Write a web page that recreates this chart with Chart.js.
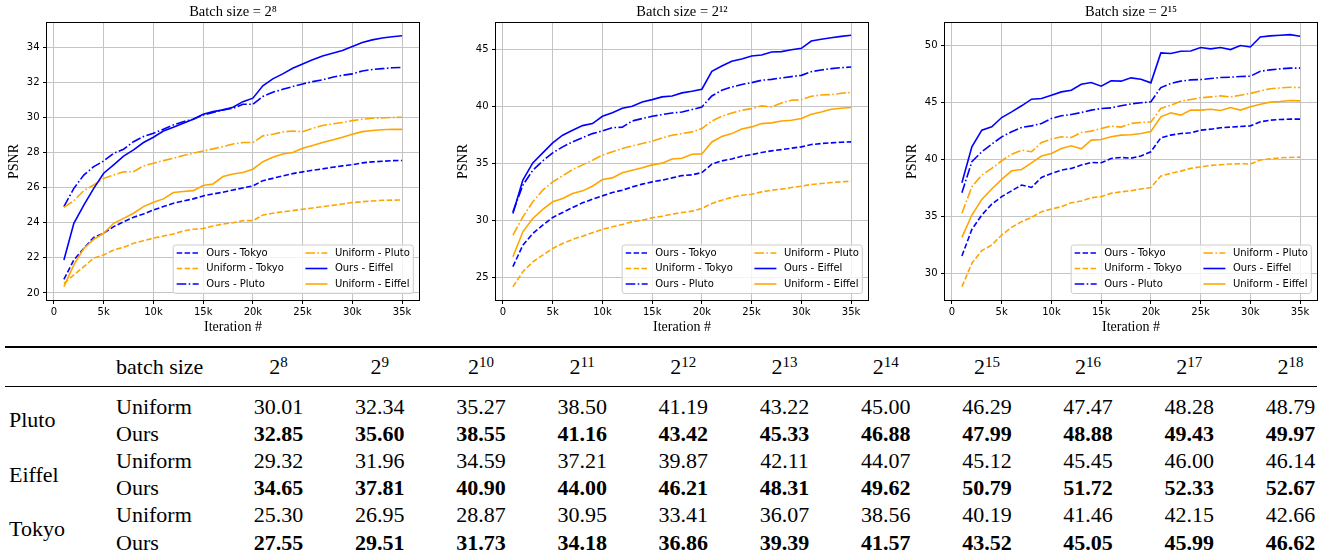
<!DOCTYPE html>
<html>
<head>
<meta charset="utf-8">
<script src="https://cdn.jsdelivr.net/npm/chart.js@4.4.1/dist/chart.umd.min.js"></script>
<style>
  html, body { margin: 0; padding: 0; background: #fff; }
  body { width: 1325px; height: 560px; overflow: hidden; position: relative; }
  canvas { position: absolute; top: 0; }
  .rule { position: absolute; left: 5px; width: 1312px; background: #000; }
  #psnrTable {
    position: absolute; top: 348px; left: 0;
    width: 1341px; table-layout: fixed;
    border-collapse: collapse; border-spacing: 0;
    font-family: "Liberation Serif", "Times New Roman", serif; font-size: 22px; color: #000;
  }
  #psnrTable td { padding: 0; white-space: nowrap; line-height: 27.2px; height: 27.2px; }
  #psnrTable tr.head td { height: 38px; line-height: 38px; }
  #psnrTable tr.gap td { height: 6.5px; line-height: 6.5px; }
  #psnrTable td.scene { padding-left: 9px; vertical-align: middle; }
  #psnrTable td.method { padding-left: 6px; }
  #psnrTable td.num { text-align: center; }
  #psnrTable td.best { font-weight: bold; }
  #psnrTable sup { font-size: 15px; vertical-align: 7px; line-height: 0; }
</style>
</head>
<body>
<canvas id="c8" width="440" height="340" style="left:0px"></canvas>
<canvas id="c12" width="440" height="340" style="left:449px"></canvas>
<canvas id="c15" width="440" height="340" style="left:898px"></canvas>
<div class="rule" style="top:346px;height:2px"></div>
<div class="rule" style="top:386px;height:1px"></div>
<table id="psnrTable"></table>

<script>
// ---- line chart data (PSNR vs iteration) ----
const iterations = [1000, 2000, 3000, 4000, 5000, 6000, 7000, 8000, 9000, 10000,
  11000, 12000, 13000, 14000, 15000, 16000, 17000, 18000, 19000, 20000,
  21000, 22000, 23000, 24000, 25000, 26000, 27000, 28000, 29000, 30000,
  31000, 32000, 33000, 34000, 35000];

const xTicks = [0, 5000, 10000, 15000, 20000, 25000, 30000, 35000];
const xTickLabels = ['0', '5k', '10k', '15k', '20k', '25k', '30k', '35k'];

// batch size 2^8
const b8OursTokyo = [20.78, 21.88, 22.54, 23.17, 23.40, 23.78, 24.06, 24.31, 24.50, 24.73, 24.92, 25.11, 25.24, 25.36, 25.53, 25.64, 25.74, 25.87, 25.98, 26.10, 26.40, 26.53, 26.67, 26.80, 26.90, 26.99, 27.07, 27.16, 27.24, 27.31, 27.41, 27.47, 27.50, 27.54, 27.55];
const b8UniformTokyo = [20.55, 21.03, 21.50, 21.98, 22.17, 22.45, 22.60, 22.83, 22.98, 23.12, 23.25, 23.36, 23.53, 23.63, 23.67, 23.82, 23.93, 24.00, 24.12, 24.12, 24.44, 24.54, 24.63, 24.69, 24.77, 24.84, 24.92, 24.99, 25.07, 25.15, 25.20, 25.24, 25.28, 25.29, 25.30];
const b8OursPluto = [24.92, 25.96, 26.72, 27.20, 27.52, 27.96, 28.19, 28.62, 28.91, 29.10, 29.33, 29.57, 29.76, 29.90, 30.14, 30.28, 30.43, 30.52, 30.75, 30.75, 31.19, 31.44, 31.60, 31.76, 31.91, 32.04, 32.14, 32.29, 32.40, 32.48, 32.65, 32.73, 32.78, 32.83, 32.85];
const b8UniformPluto = [24.88, 25.26, 25.83, 26.15, 26.53, 26.72, 26.90, 26.91, 27.24, 27.39, 27.54, 27.67, 27.83, 27.96, 28.09, 28.21, 28.34, 28.49, 28.57, 28.57, 28.95, 29.04, 29.17, 29.23, 29.19, 29.38, 29.54, 29.63, 29.71, 29.82, 29.90, 29.95, 29.97, 30.00, 30.01];
const b8OursEiffel = [21.88, 23.97, 25.00, 25.96, 26.82, 27.30, 27.80, 28.15, 28.57, 28.87, 29.23, 29.44, 29.67, 29.90, 30.18, 30.33, 30.43, 30.58, 30.90, 31.10, 31.80, 32.20, 32.48, 32.80, 33.05, 33.28, 33.50, 33.66, 33.81, 34.04, 34.27, 34.42, 34.53, 34.60, 34.65];
const b8UniformEiffel = [20.36, 21.60, 22.54, 23.05, 23.40, 23.97, 24.25, 24.54, 24.92, 25.17, 25.36, 25.72, 25.78, 25.83, 26.12, 26.21, 26.63, 26.78, 26.86, 27.05, 27.48, 27.73, 27.92, 28.00, 28.24, 28.40, 28.57, 28.72, 28.87, 29.04, 29.19, 29.26, 29.30, 29.33, 29.32];

// batch size 2^12
const b12OursTokyo = [25.91, 27.80, 28.82, 29.55, 30.23, 30.66, 31.10, 31.51, 31.83, 32.12, 32.42, 32.62, 32.91, 33.15, 33.35, 33.50, 33.70, 33.90, 33.96, 34.17, 34.90, 35.19, 35.36, 35.60, 35.74, 35.92, 36.07, 36.18, 36.30, 36.42, 36.62, 36.71, 36.77, 36.82, 36.86];
const b12UniformTokyo = [24.15, 25.47, 26.34, 26.93, 27.51, 27.95, 28.30, 28.59, 28.88, 29.18, 29.41, 29.61, 29.85, 29.99, 30.20, 30.34, 30.52, 30.66, 30.78, 31.01, 31.45, 31.74, 31.98, 32.18, 32.27, 32.47, 32.62, 32.71, 32.85, 32.97, 33.12, 33.20, 33.29, 33.35, 33.41];
const b12OursPluto = [30.72, 33.06, 34.37, 35.19, 35.89, 36.42, 36.85, 37.23, 37.58, 37.82, 38.11, 38.14, 38.69, 38.90, 39.10, 39.25, 39.39, 39.48, 39.69, 39.92, 40.88, 41.38, 41.67, 41.88, 42.05, 42.26, 42.34, 42.46, 42.58, 42.69, 43.01, 43.16, 43.28, 43.36, 43.42];
const b12UniformPluto = [28.68, 30.28, 31.60, 32.62, 33.35, 33.88, 34.43, 34.84, 35.25, 35.69, 35.98, 36.27, 36.50, 36.71, 36.91, 37.20, 37.44, 37.58, 37.73, 38.02, 38.69, 39.10, 39.39, 39.63, 39.77, 40.01, 39.92, 40.27, 40.50, 40.56, 40.85, 40.97, 41.00, 41.12, 41.19];
const b12OursEiffel = [30.58, 33.50, 35.01, 35.89, 36.77, 37.44, 37.88, 38.28, 38.46, 39.10, 39.42, 39.80, 39.98, 40.36, 40.56, 40.80, 40.88, 41.15, 41.29, 41.47, 43.04, 43.51, 43.92, 44.12, 44.39, 44.47, 44.74, 44.77, 44.94, 45.06, 45.70, 45.85, 45.99, 46.11, 46.21];
const b12UniformEiffel = [26.78, 28.97, 30.14, 30.93, 31.60, 31.89, 32.33, 32.56, 32.97, 33.55, 33.70, 34.14, 34.37, 34.58, 34.84, 34.99, 35.36, 35.42, 35.77, 35.80, 36.85, 37.32, 37.58, 37.99, 38.17, 38.46, 38.52, 38.69, 38.75, 38.90, 39.28, 39.48, 39.72, 39.80, 39.87];

// batch size 2^15
const b15OursTokyo = [31.52, 33.85, 35.11, 36.07, 36.72, 37.24, 37.74, 37.53, 38.41, 38.76, 39.05, 39.20, 39.49, 39.72, 39.69, 40.07, 40.16, 40.10, 40.28, 40.66, 41.88, 42.12, 42.26, 42.32, 42.55, 42.64, 42.76, 42.82, 42.88, 42.93, 43.28, 43.43, 43.49, 43.52, 43.52];
const b15UniformTokyo = [28.83, 30.88, 31.99, 32.48, 33.36, 34.03, 34.53, 34.91, 35.40, 35.64, 35.84, 36.19, 36.34, 36.63, 36.72, 37.01, 37.15, 37.24, 37.39, 37.53, 38.53, 38.76, 38.96, 39.20, 39.34, 39.46, 39.52, 39.58, 39.61, 39.58, 39.93, 40.04, 40.13, 40.16, 40.19];
const b15OursPluto = [37.07, 39.78, 40.66, 41.33, 41.97, 42.41, 42.79, 42.93, 43.14, 43.58, 43.81, 43.93, 44.10, 44.31, 44.45, 44.51, 44.69, 44.86, 44.95, 45.04, 46.29, 46.64, 46.85, 46.96, 46.99, 47.08, 47.17, 47.20, 47.26, 47.28, 47.72, 47.84, 47.93, 47.99, 47.99];
const b15UniformPluto = [35.26, 37.59, 38.61, 39.20, 39.87, 40.45, 40.80, 40.66, 41.47, 41.77, 41.97, 41.91, 42.35, 42.47, 42.70, 42.91, 42.82, 43.14, 43.23, 43.28, 44.45, 44.74, 45.09, 45.24, 45.39, 45.47, 45.56, 45.47, 45.62, 45.77, 46.00, 46.18, 46.26, 46.32, 46.29];
const b15OursEiffel = [37.94, 41.09, 42.55, 42.85, 43.66, 44.16, 44.69, 45.27, 45.33, 45.62, 45.91, 46.06, 46.58, 46.73, 46.41, 46.88, 46.85, 47.14, 47.02, 46.70, 49.33, 49.27, 49.47, 49.50, 49.80, 49.68, 49.80, 49.62, 49.97, 49.85, 50.73, 50.82, 50.88, 50.93, 50.79];
const b15UniformEiffel = [33.15, 35.11, 36.48, 37.39, 38.23, 38.99, 39.11, 39.69, 40.28, 40.51, 40.95, 41.18, 40.92, 41.68, 41.74, 41.97, 42.12, 42.15, 42.26, 42.44, 43.72, 44.07, 43.87, 44.31, 44.31, 44.39, 44.28, 44.54, 44.31, 44.60, 44.83, 45.01, 45.07, 45.15, 45.12];

const b8YTicks = [20, 22, 24, 26, 28, 30, 32, 34];
const b12YTicks = [25, 30, 35, 40, 45];
const b15YTicks = [30, 35, 40, 45, 50];

// ---- table data (final PSNR per batch size) ----
const batchExponents = [8, 9, 10, 11, 12, 13, 14, 15, 16, 17, 18];
const plutoUniform = [30.01, 32.34, 35.27, 38.50, 41.19, 43.22, 45.00, 46.29, 47.47, 48.28, 48.79];
const plutoOurs = [32.85, 35.60, 38.55, 41.16, 43.42, 45.33, 46.88, 47.99, 48.88, 49.43, 49.97];
const eiffelUniform = [29.32, 31.96, 34.59, 37.21, 39.87, 42.11, 44.07, 45.12, 45.45, 46.00, 46.14];
const eiffelOurs = [34.65, 37.81, 40.90, 44.00, 46.21, 48.31, 49.62, 50.79, 51.72, 52.33, 52.67];
const tokyoUniform = [25.30, 26.95, 28.87, 30.95, 33.41, 36.07, 38.56, 40.19, 41.46, 42.15, 42.66];
const tokyoOurs = [27.55, 29.51, 31.73, 34.18, 36.86, 39.39, 41.57, 43.52, 45.05, 45.99, 46.62];

const BLUE = '#0000ff';
const ORANGE = '#ffa500';
const DASHED = [5.5, 2.4];
const DASHDOT = [9.6, 2.4, 1.6, 2.4];
const gridColor = '#c4c4c4';
const tickFont = { family: 'DejaVu Sans', size: 10 };
const serifFont = { family: 'Liberation Serif', size: 14, weight: 'normal' };

// spines on all four sides, drawn over the lines like matplotlib
const frame = {
  id: 'frame',
  afterDatasetsDraw(chart) {
    const { ctx, chartArea: a } = chart;
    ctx.save();
    ctx.strokeStyle = '#000';
    ctx.lineWidth = 1;
    ctx.strokeRect(a.left - 0.5, a.top - 0.5, a.right - a.left + 1, a.bottom - a.top + 1);
    ctx.restore();
  }
};

// two-column legend in the lower right of the axes
const legendBox = {
  id: 'legendBox',
  afterDraw(chart) {
    const { ctx, chartArea: a } = chart;
    const ds = chart.data.datasets;
    ctx.save();
    ctx.font = '10px "DejaVu Sans"';
    const pad = 3.5, handle = 22, handleGap = 7.5, colGap = 21.5, rowH = 15.5, h = 48.5;
    const cols = [ds.slice(0, 3), ds.slice(3, 6)];
    const colW = cols.map(c => Math.max(...c.map(d => ctx.measureText(d.label).width)));
    const w = pad * 2 + 2 * (handle + handleGap) + colW[0] + colW[1] + colGap;
    const x0 = a.right - 5.7 - w;
    const y0 = a.bottom - 6.5 - h;
    ctx.beginPath();
    ctx.roundRect(x0, y0, w, h, 2.5);
    ctx.fillStyle = 'rgba(255,255,255,0.8)';
    ctx.fill();
    ctx.strokeStyle = '#cccccc';
    ctx.lineWidth = 1;
    ctx.stroke();
    let cx = x0 + pad;
    cols.forEach((c, ci) => {
      c.forEach((d, ri) => {
        const y = y0 + 8 + ri * rowH;
        ctx.beginPath();
        ctx.setLineDash(d.borderDash || []);
        ctx.strokeStyle = d.borderColor;
        ctx.lineWidth = d.borderWidth;
        ctx.moveTo(cx, y);
        ctx.lineTo(cx + handle, y);
        ctx.stroke();
        ctx.setLineDash([]);
        ctx.fillStyle = '#000';
        ctx.textBaseline = 'middle';
        ctx.textAlign = 'left';
        ctx.fillText(d.label, cx + handle + handleGap, y);
      });
      cx += handle + handleGap + colW[ci] + colGap;
    });
    ctx.restore();
  }
};

function series(label, data, color, dash) {
  return { label, data, borderColor: color, borderDash: dash, borderWidth: 1.6,
           pointRadius: 0, fill: false, tension: 0 };
}

function makeChart(id, title, lines, yMin, yMax, yTicks) {
  const datasets = [
    series('Ours - Tokyo', lines[0], BLUE, DASHED),
    series('Uniform - Tokyo', lines[1], ORANGE, DASHED),
    series('Ours - Pluto', lines[2], BLUE, DASHDOT),
    series('Uniform - Pluto', lines[3], ORANGE, DASHDOT),
    series('Ours - Eiffel', lines[4], BLUE, []),
    series('Uniform - Eiffel', lines[5], ORANGE, []),
  ];
  // later series on top, as in matplotlib
  datasets.forEach((d, i) => { d.order = datasets.length - i; });

  return new Chart(document.getElementById(id), {
    type: 'line',
    data: { labels: iterations, datasets },
    plugins: [frame, legendBox],
    options: {
      responsive: false,
      animation: false,
      devicePixelRatio: 1,
      layout: { padding: { left: 0, right: 21, top: 0, bottom: 0 } },
      plugins: {
        legend: { display: false },
        tooltip: { enabled: false },
        title: {
          display: true, text: title, fullSize: false, color: '#000',
          font: { family: 'Liberation Serif', size: 14.5, weight: 'normal', lineHeight: 1.2 },
          padding: { top: 3, bottom: 2.6 }
        }
      },
      scales: {
        x: {
          type: 'linear', min: -700, max: 36700,
          afterBuildTicks: s => { s.ticks = xTicks.map(v => ({ value: v })); },
          afterFit: s => { s.height = 40; },
          grid: { color: gridColor, lineWidth: 1, tickLength: 4, tickColor: '#000', drawTicks: true },
          border: { display: false },
          ticks: { font: tickFont, color: '#000', padding: 2, autoSkip: false, maxRotation: 0,
                   callback: v => xTickLabels[xTicks.indexOf(v)] },
          title: { display: true, text: 'Iteration #', color: '#000', font: serifFont,
                   padding: { top: 0, bottom: 4.6 } }
        },
        y: {
          min: yMin, max: yMax,
          afterBuildTicks: s => { s.ticks = yTicks.map(v => ({ value: v })); },
          afterFit: s => { s.width = 47; },
          grid: { color: gridColor, lineWidth: 1, tickLength: 4, tickColor: '#000', drawTicks: true },
          border: { display: false },
          ticks: { font: tickFont, color: '#000', padding: 3.5, callback: v => String(v) },
          title: { display: true, text: 'PSNR', color: '#000', font: serifFont,
                   padding: { top: 6, bottom: 0 } }
        }
      }
    }
  });
}

makeChart('c8', 'Batch size = 2\u2078',
  [b8OursTokyo, b8UniformTokyo, b8OursPluto, b8UniformPluto, b8OursEiffel, b8UniformEiffel],
  19.6, 35.38, b8YTicks);
makeChart('c12', 'Batch size = 2\u00b9\u00b2',
  [b12OursTokyo, b12UniformTokyo, b12OursPluto, b12UniformPluto, b12OursEiffel, b12UniformEiffel],
  22.99, 47.28, b12YTicks);
makeChart('c15', 'Batch size = 2\u00b9\u2075',
  [b15OursTokyo, b15UniformTokyo, b15OursPluto, b15UniformPluto, b15OursEiffel, b15UniformEiffel],
  27.66, 51.95, b15YTicks);

// ---- table ----
const tableGroups = [
  ['Pluto', plutoUniform, plutoOurs],
  ['Eiffel', eiffelUniform, eiffelOurs],
  ['Tokyo', tokyoUniform, tokyoOurs],
];

(function buildTable() {
  let html = '<colgroup><col style="width:110px"><col style="width:118px">';
  batchExponents.forEach(() => { html += '<col style="width:101.2px">'; });
  html += '</colgroup>';
  html += '<tr class="head"><td></td><td class="method">batch size</td>';
  batchExponents.forEach(e => { html += '<td class="num">2<sup>' + e + '</sup></td>'; });
  html += '</tr><tr class="gap"><td colspan="13"></td></tr>';
  tableGroups.forEach(([scene, uni, ours]) => {
    html += '<tr><td class="scene" rowspan="2">' + scene + '</td><td class="method">Uniform</td>';
    uni.forEach(v => { html += '<td class="num">' + v.toFixed(2) + '</td>'; });
    html += '</tr><tr><td class="method">Ours</td>';
    ours.forEach(v => { html += '<td class="num best">' + v.toFixed(2) + '</td>'; });
    html += '</tr>';
  });
  document.getElementById('psnrTable').innerHTML = html;
})();
</script>
</body>
</html>
